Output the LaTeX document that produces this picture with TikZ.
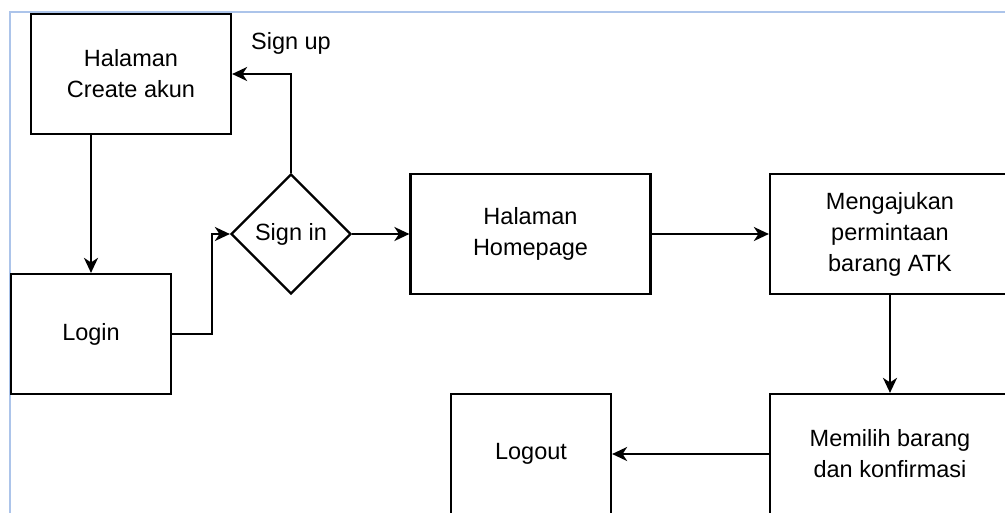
\documentclass[tikz,border=0pt]{standalone}
\usepackage{fontspec}
\setmainfont{Liberation Sans}
\usetikzlibrary{shapes.geometric,arrows.meta}
\definecolor{framecol}{RGB}{172,196,234}
\tikzset{
  box/.style={draw, line width=2.2pt, minimum width=200pt, minimum height=120pt,
    align=center, inner sep=0pt, font=\fontsize{23.5}{31}\selectfont},
  widebox/.style={box, minimum width=240pt},
  smallbox/.style={box, minimum width=160pt},
  decision/.style={draw, diamond, aspect=1, line width=2.2pt, minimum width=120pt,
    minimum height=120pt, inner sep=0pt, font=\fontsize{23.5}{31}\selectfont},
  lbl/.style={font=\fontsize{23.5}{31}\selectfont, inner sep=0pt},
  flow/.style={line width=2.2pt, -{Stealth[length=15pt,width=14pt,inset=4.5pt]}}
}
\begin{document}
\begin{tikzpicture}[x=1pt,y=-1pt]
\useasboundingbox (0,0) rectangle (1005,512);
\clip (0,0) rectangle (1005,512);
\fill[white] (0,0) rectangle (1005,512);
% canvas frame
\draw[framecol, line width=2pt] (9.5,520) -- (9.5,11.5) -- (1010,11.5);

% process steps
\node[box] (ca) at (131,74) {Halaman\\Create akun};
\node[smallbox] (login) at (91,334) {Login};
\node[decision] (si) at (291,234) {Sign in};
\node[widebox] (hp) at (530.5,234) {Halaman\\Homepage};
\node[widebox] (mg) at (890,234) {Mengajukan\\permintaan\\barang ATK};
\node[widebox] (mb) at (890,454) {Memilih barang\\dan konfirmasi};
\node[smallbox] (lo) at (531,454) {Logout};
\node[lbl] (su) at (291,43) {Sign up};

% connectors
\draw[flow] (ca.south -| login.north) -- (login.north);
\draw[flow] (login.east) -- ++(40,0) |- (si.west);
\draw[flow] (si.north) |- (ca.east);
\draw[flow] (si.east) -- (hp.west);
\draw[flow] (hp.east) -- (mg.west);
\draw[flow] (mg.south) -- (mb.north);
\draw[flow] (mb.west) -- (lo.east);
\end{tikzpicture}
\end{document}
